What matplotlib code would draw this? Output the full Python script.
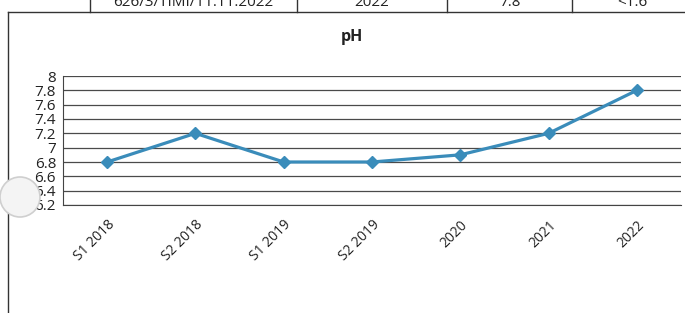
import matplotlib.pyplot as plt
from matplotlib.patches import Circle
from matplotlib.lines import Line2D

plt.rcParams['font.family'] = ['Open Sans', 'DejaVu Sans']

# data
periods = ['S1 2018', 'S2 2018', 'S1 2019', 'S2 2019', '2020', '2021', '2022']
ph = [6.8, 7.2, 6.8, 6.8, 6.9, 7.2, 7.8]
y_ticks = [6.2, 6.4, 6.6, 6.8, 7.0, 7.2, 7.4, 7.6, 7.8, 8.0]
y_labels = ['6.2', '6.4', '6.6', '6.8', '7', '7.2', '7.4', '7.6', '7.8', '8']
# row of the table above the chart (cut off by the scan)
table_row = ['626/3/TIMI/11.11.2022', '2022', '7.8', '<1.6']

W, H = 685, 313
fig = plt.figure(figsize=(W / 100, H / 100), dpi=100)

def fx(px):
    return px / W

def fy(py):
    return 1 - py / H

# chart frame and table borders
fig.add_artist(Line2D([fx(8), fx(685)], [fy(12), fy(12)], color='#333333', lw=1.0))
fig.add_artist(Line2D([fx(8), fx(8)], [fy(12), fy(313)], color='#333333', lw=1.0))
for xp in [90, 297, 447, 572]:
    fig.add_artist(Line2D([fx(xp), fx(xp)], [fy(0), fy(12)], color='#333333', lw=1.0))
for xc, t in zip([193, 372, 510, 632], table_row):
    fig.text(fx(xc), fy(2), t, ha='center', va='center', fontsize=11, color='#222222')

fig.text(fx(352), fy(37), 'pH', ha='center', va='center', fontsize=11.5,
         fontweight='bold', color='#222222')

ax = fig.add_axes([fx(63), fy(205), fx(681) - fx(63), fy(76) - fy(205)])
x = list(range(len(periods)))
ax.plot(x, ph, color='#3a8cba', lw=2.3, marker='D', markersize=6,
        markerfacecolor='#3a8cba', markeredgecolor='#3a8cba')
ax.set_xlim(-0.5, len(periods) - 0.5)
ax.set_ylim(6.2, 8.0)
ax.set_yticks(y_ticks)
ax.set_yticklabels(y_labels, fontsize=11, color='#222222')
ax.set_xticks(x)
ax.set_xticklabels(periods, rotation=45, ha='right', rotation_mode='anchor',
                   fontsize=10, color='#222222')
ax.tick_params(axis='both', length=0)
ax.tick_params(axis='y', pad=5)
ax.tick_params(axis='x', pad=9)
ax.yaxis.grid(True, color='#4a4a4a', lw=0.9)
ax.set_axisbelow(True)
for s in ['top', 'right']:
    ax.spines[s].set_visible(False)
ax.spines['left'].set_color('#444444')
ax.spines['bottom'].set_color('#444444')

# punch hole of the scanned page
hole = Circle((0.20, (H - 197) / 100), radius=0.20, transform=fig.dpi_scale_trans,
              facecolor='#f4f4f4', edgecolor='#cfcfcf', lw=1.2, zorder=10)
fig.add_artist(hole)

fig.savefig('out.png', dpi=100)
